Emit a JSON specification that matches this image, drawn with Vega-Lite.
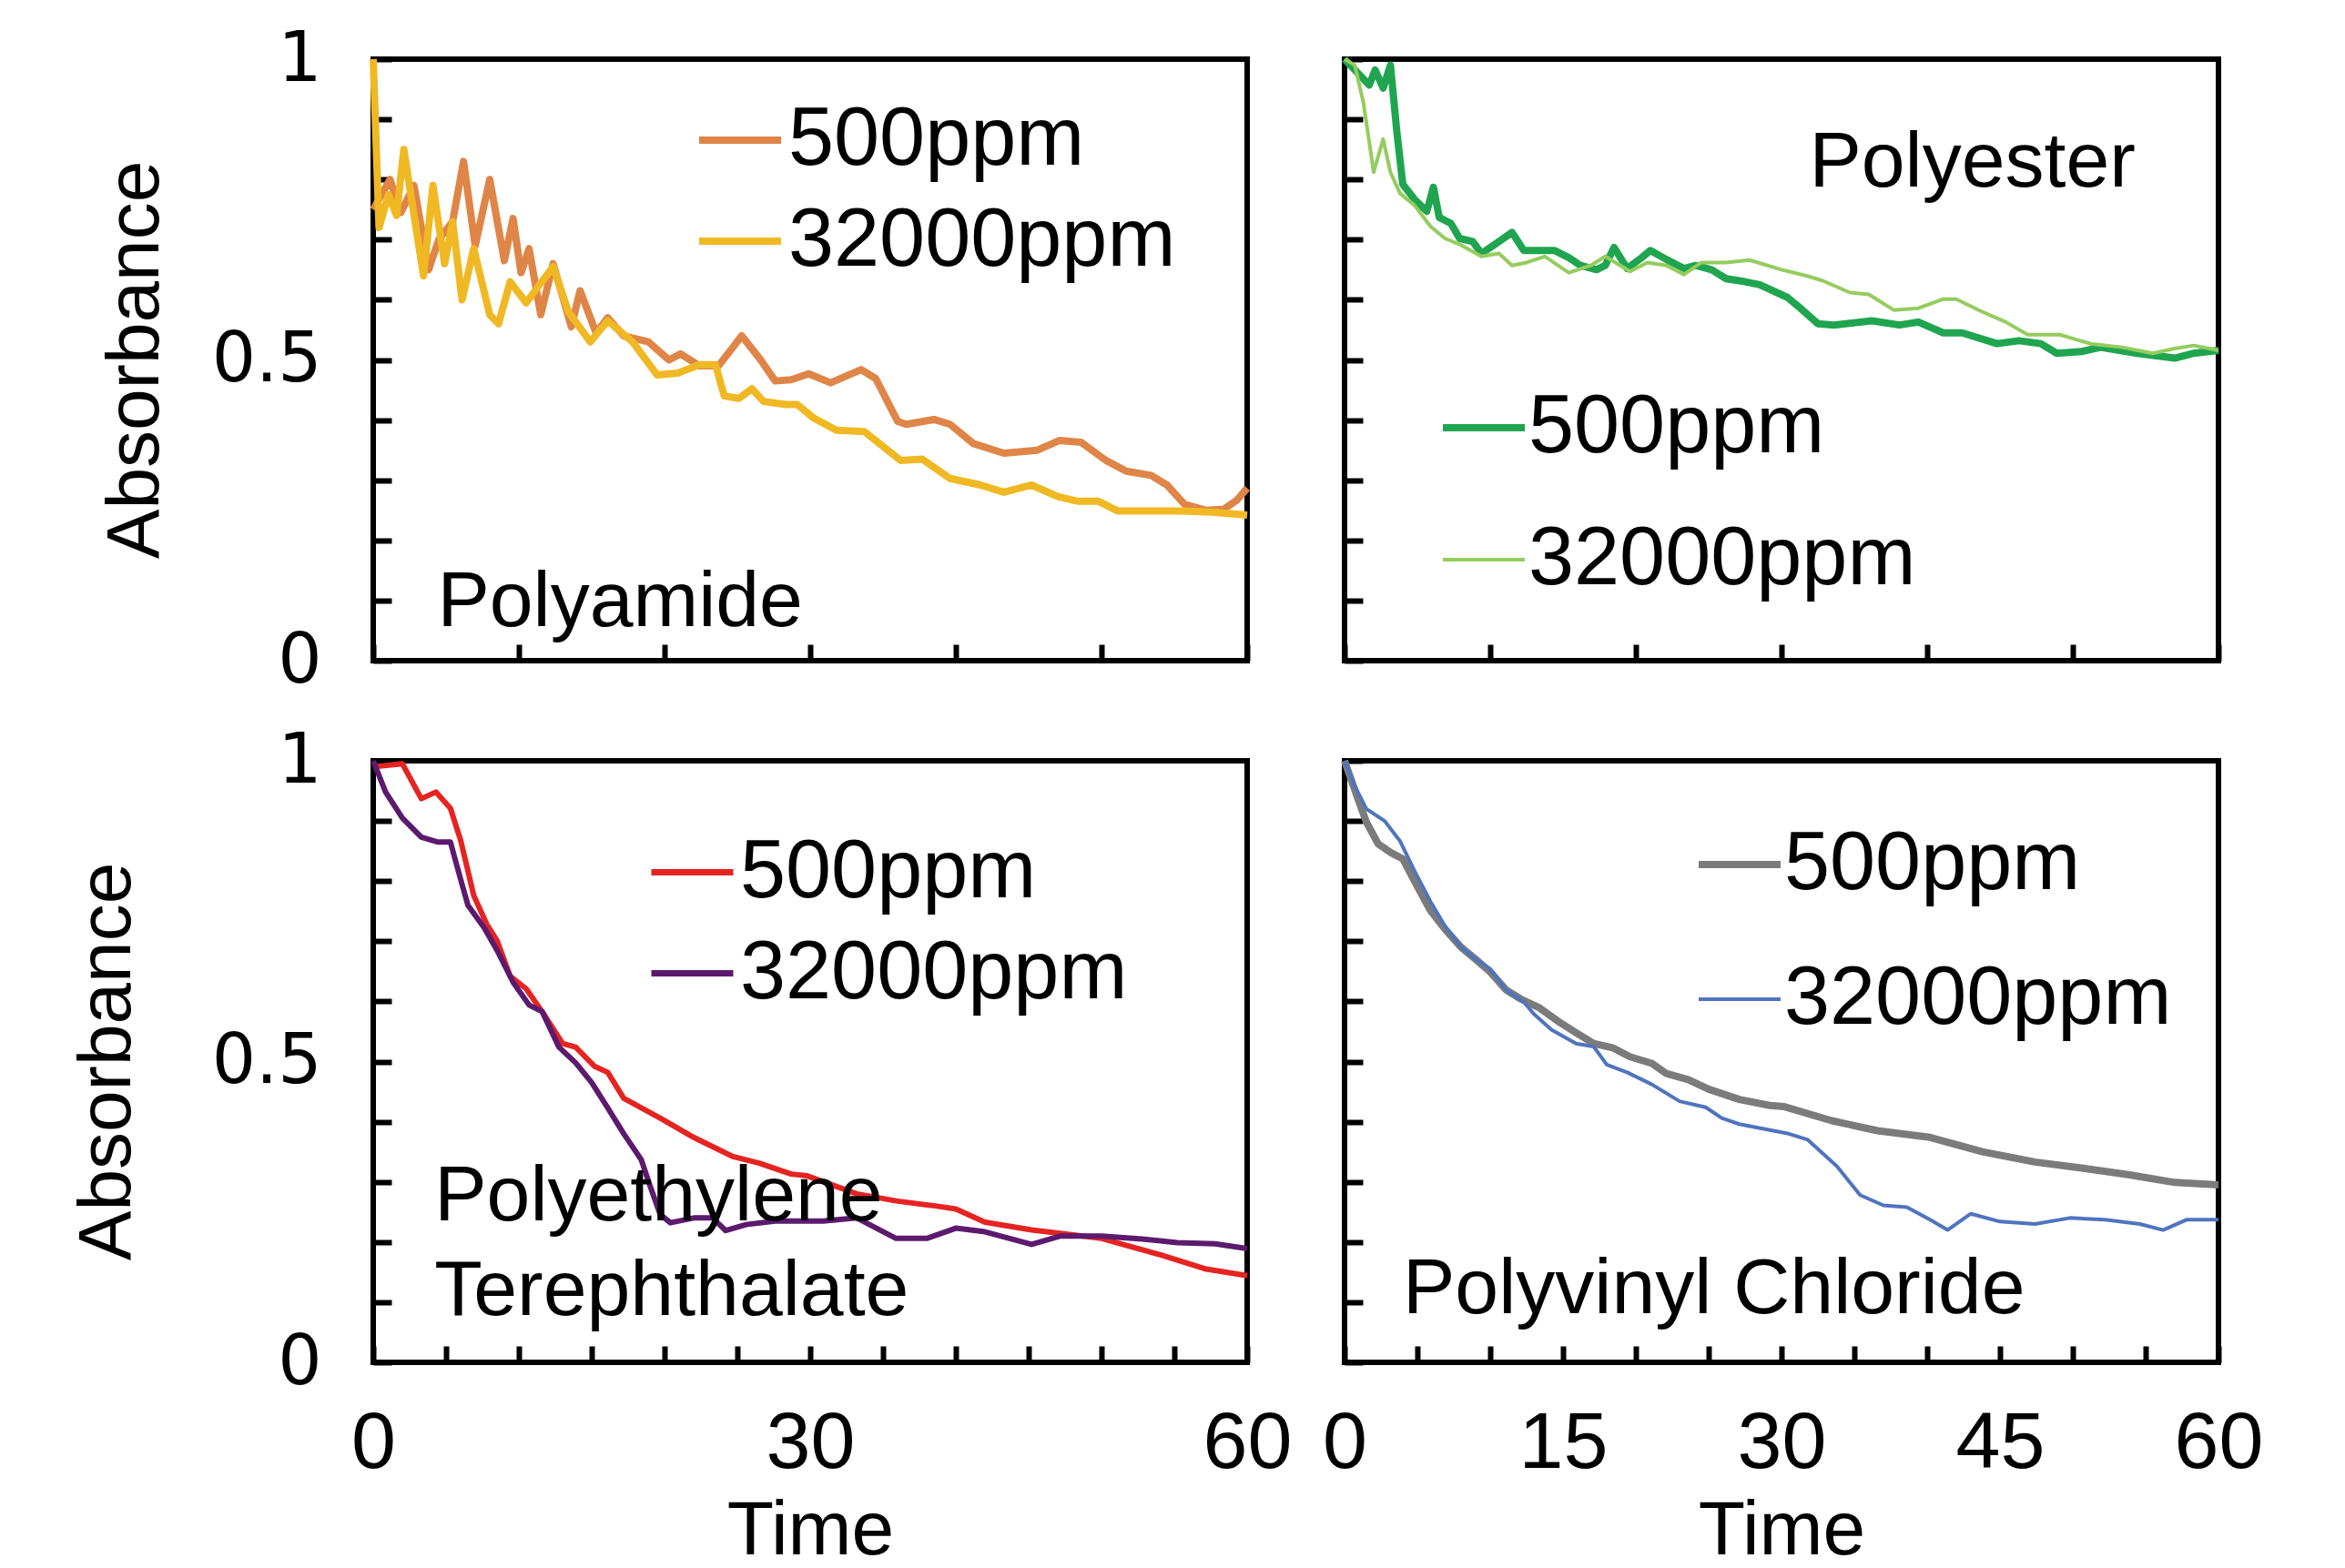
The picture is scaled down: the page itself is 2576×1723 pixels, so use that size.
{
"$schema": "https://vega.github.io/schema/vega-lite/v6.json",
"background": "white",
"padding": {"left": 73, "top": 24, "right": 10, "bottom": 0},
"datasets": {"d": [
{"p":"PA","s":"500ppm","t":0,"a":0.75},{"p":"PA","s":"500ppm","t":1.15,"a":0.8},{"p":"PA","s":"500ppm","t":1.9,"a":0.745},{"p":"PA","s":"500ppm","t":2.8,"a":0.79},{"p":"PA","s":"500ppm","t":3.8,"a":0.65},{"p":"PA","s":"500ppm","t":4.5,"a":0.7},{"p":"PA","s":"500ppm","t":5.45,"a":0.73},{"p":"PA","s":"500ppm","t":6.2,"a":0.83},{"p":"PA","s":"500ppm","t":7.0,"a":0.69},{"p":"PA","s":"500ppm","t":8.0,"a":0.8},{"p":"PA","s":"500ppm","t":9.0,"a":0.665},{"p":"PA","s":"500ppm","t":9.6,"a":0.735},{"p":"PA","s":"500ppm","t":10.15,"a":0.645},{"p":"PA","s":"500ppm","t":10.7,"a":0.685},{"p":"PA","s":"500ppm","t":11.5,"a":0.575},{"p":"PA","s":"500ppm","t":12.35,"a":0.66},{"p":"PA","s":"500ppm","t":13.6,"a":0.555},{"p":"PA","s":"500ppm","t":14.2,"a":0.615},{"p":"PA","s":"500ppm","t":15.3,"a":0.545},{"p":"PA","s":"500ppm","t":16.1,"a":0.57},{"p":"PA","s":"500ppm","t":17.2,"a":0.54},{"p":"PA","s":"500ppm","t":18.9,"a":0.53},{"p":"PA","s":"500ppm","t":20.3,"a":0.5},{"p":"PA","s":"500ppm","t":21.1,"a":0.51},{"p":"PA","s":"500ppm","t":22.4,"a":0.49},{"p":"PA","s":"500ppm","t":23.7,"a":0.49},{"p":"PA","s":"500ppm","t":25.3,"a":0.54},{"p":"PA","s":"500ppm","t":26.6,"a":0.5},{"p":"PA","s":"500ppm","t":27.6,"a":0.465},{"p":"PA","s":"500ppm","t":28.7,"a":0.467},{"p":"PA","s":"500ppm","t":29.9,"a":0.477},{"p":"PA","s":"500ppm","t":31.4,"a":0.462},{"p":"PA","s":"500ppm","t":33.5,"a":0.484},{"p":"PA","s":"500ppm","t":34.5,"a":0.469},{"p":"PA","s":"500ppm","t":36.0,"a":0.398},{"p":"PA","s":"500ppm","t":36.6,"a":0.393},{"p":"PA","s":"500ppm","t":38.5,"a":0.401},{"p":"PA","s":"500ppm","t":39.6,"a":0.393},{"p":"PA","s":"500ppm","t":41.2,"a":0.361},{"p":"PA","s":"500ppm","t":43.3,"a":0.345},{"p":"PA","s":"500ppm","t":45.6,"a":0.35},{"p":"PA","s":"500ppm","t":47.1,"a":0.366},{"p":"PA","s":"500ppm","t":48.6,"a":0.363},{"p":"PA","s":"500ppm","t":50.3,"a":0.333},{"p":"PA","s":"500ppm","t":51.7,"a":0.315},{"p":"PA","s":"500ppm","t":53.4,"a":0.308},{"p":"PA","s":"500ppm","t":54.5,"a":0.292},{"p":"PA","s":"500ppm","t":55.7,"a":0.26},{"p":"PA","s":"500ppm","t":57.2,"a":0.25},{"p":"PA","s":"500ppm","t":58.4,"a":0.252},{"p":"PA","s":"500ppm","t":59.3,"a":0.267},{"p":"PA","s":"500ppm","t":60,"a":0.287},
{"p":"PA","s":"32000ppm","t":0,"a":1.0},{"p":"PA","s":"32000ppm","t":0.4,"a":0.72},{"p":"PA","s":"32000ppm","t":1.05,"a":0.775},{"p":"PA","s":"32000ppm","t":1.6,"a":0.74},{"p":"PA","s":"32000ppm","t":2.1,"a":0.85},{"p":"PA","s":"32000ppm","t":3.45,"a":0.64},{"p":"PA","s":"32000ppm","t":4.1,"a":0.79},{"p":"PA","s":"32000ppm","t":4.9,"a":0.66},{"p":"PA","s":"32000ppm","t":5.45,"a":0.73},{"p":"PA","s":"32000ppm","t":6.1,"a":0.6},{"p":"PA","s":"32000ppm","t":6.9,"a":0.685},{"p":"PA","s":"32000ppm","t":8.0,"a":0.575},{"p":"PA","s":"32000ppm","t":8.6,"a":0.56},{"p":"PA","s":"32000ppm","t":9.4,"a":0.63},{"p":"PA","s":"32000ppm","t":10.5,"a":0.595},{"p":"PA","s":"32000ppm","t":12.35,"a":0.655},{"p":"PA","s":"32000ppm","t":13.4,"a":0.58},{"p":"PA","s":"32000ppm","t":14.9,"a":0.53},{"p":"PA","s":"32000ppm","t":16.1,"a":0.565},{"p":"PA","s":"32000ppm","t":17.8,"a":0.53},{"p":"PA","s":"32000ppm","t":19.5,"a":0.475},{"p":"PA","s":"32000ppm","t":20.9,"a":0.478},{"p":"PA","s":"32000ppm","t":22.4,"a":0.492},{"p":"PA","s":"32000ppm","t":23.5,"a":0.492},{"p":"PA","s":"32000ppm","t":24.1,"a":0.44},{"p":"PA","s":"32000ppm","t":25.1,"a":0.436},{"p":"PA","s":"32000ppm","t":26.0,"a":0.452},{"p":"PA","s":"32000ppm","t":26.8,"a":0.431},{"p":"PA","s":"32000ppm","t":28.3,"a":0.426},{"p":"PA","s":"32000ppm","t":29.1,"a":0.426},{"p":"PA","s":"32000ppm","t":30.2,"a":0.404},{"p":"PA","s":"32000ppm","t":31.8,"a":0.383},{"p":"PA","s":"32000ppm","t":33.7,"a":0.381},{"p":"PA","s":"32000ppm","t":34.5,"a":0.366},{"p":"PA","s":"32000ppm","t":36.2,"a":0.333},{"p":"PA","s":"32000ppm","t":37.7,"a":0.335},{"p":"PA","s":"32000ppm","t":39.6,"a":0.303},{"p":"PA","s":"32000ppm","t":41.7,"a":0.292},{"p":"PA","s":"32000ppm","t":43.3,"a":0.28},{"p":"PA","s":"32000ppm","t":45.2,"a":0.292},{"p":"PA","s":"32000ppm","t":47.1,"a":0.272},{"p":"PA","s":"32000ppm","t":48.4,"a":0.265},{"p":"PA","s":"32000ppm","t":49.8,"a":0.265},{"p":"PA","s":"32000ppm","t":51.1,"a":0.249},{"p":"PA","s":"32000ppm","t":53.4,"a":0.249},{"p":"PA","s":"32000ppm","t":55.5,"a":0.249},{"p":"PA","s":"32000ppm","t":57.6,"a":0.247},{"p":"PA","s":"32000ppm","t":60,"a":0.242},
{"p":"PE","s":"500ppm","t":0,"a":1.0},{"p":"PE","s":"500ppm","t":1.7,"a":0.957},{"p":"PE","s":"500ppm","t":2.1,"a":0.982},{"p":"PE","s":"500ppm","t":2.65,"a":0.952},{"p":"PE","s":"500ppm","t":3.15,"a":0.99},{"p":"PE","s":"500ppm","t":3.6,"a":0.877},{"p":"PE","s":"500ppm","t":4.0,"a":0.792},{"p":"PE","s":"500ppm","t":4.8,"a":0.767},{"p":"PE","s":"500ppm","t":5.65,"a":0.747},{"p":"PE","s":"500ppm","t":6.1,"a":0.787},{"p":"PE","s":"500ppm","t":6.5,"a":0.737},{"p":"PE","s":"500ppm","t":7.3,"a":0.727},{"p":"PE","s":"500ppm","t":7.9,"a":0.702},{"p":"PE","s":"500ppm","t":8.8,"a":0.697},{"p":"PE","s":"500ppm","t":9.4,"a":0.677},{"p":"PE","s":"500ppm","t":10.2,"a":0.69},{"p":"PE","s":"500ppm","t":11.5,"a":0.712},{"p":"PE","s":"500ppm","t":12.3,"a":0.682},{"p":"PE","s":"500ppm","t":13.3,"a":0.682},{"p":"PE","s":"500ppm","t":14.4,"a":0.682},{"p":"PE","s":"500ppm","t":15.4,"a":0.67},{"p":"PE","s":"500ppm","t":16.2,"a":0.657},{"p":"PE","s":"500ppm","t":17.3,"a":0.65},{"p":"PE","s":"500ppm","t":17.9,"a":0.657},{"p":"PE","s":"500ppm","t":18.5,"a":0.687},{"p":"PE","s":"500ppm","t":19.4,"a":0.652},{"p":"PE","s":"500ppm","t":20.4,"a":0.67},{"p":"PE","s":"500ppm","t":21.0,"a":0.682},{"p":"PE","s":"500ppm","t":22.1,"a":0.667},{"p":"PE","s":"500ppm","t":23.3,"a":0.652},{"p":"PE","s":"500ppm","t":24.1,"a":0.657},{"p":"PE","s":"500ppm","t":25.2,"a":0.65},{"p":"PE","s":"500ppm","t":26.2,"a":0.635},{"p":"PE","s":"500ppm","t":27.5,"a":0.63},{"p":"PE","s":"500ppm","t":28.5,"a":0.625},{"p":"PE","s":"500ppm","t":30.4,"a":0.604},{"p":"PE","s":"500ppm","t":31.3,"a":0.586},{"p":"PE","s":"500ppm","t":32.5,"a":0.56},{"p":"PE","s":"500ppm","t":33.6,"a":0.558},{"p":"PE","s":"500ppm","t":36.2,"a":0.565},{"p":"PE","s":"500ppm","t":38.1,"a":0.558},{"p":"PE","s":"500ppm","t":39.4,"a":0.563},{"p":"PE","s":"500ppm","t":41.1,"a":0.545},{"p":"PE","s":"500ppm","t":42.4,"a":0.545},{"p":"PE","s":"500ppm","t":44.8,"a":0.527},{"p":"PE","s":"500ppm","t":46.3,"a":0.532},{"p":"PE","s":"500ppm","t":47.8,"a":0.527},{"p":"PE","s":"500ppm","t":48.9,"a":0.511},{"p":"PE","s":"500ppm","t":50.6,"a":0.514},{"p":"PE","s":"500ppm","t":51.9,"a":0.521},{"p":"PE","s":"500ppm","t":54.4,"a":0.511},{"p":"PE","s":"500ppm","t":57.0,"a":0.503},{"p":"PE","s":"500ppm","t":58.3,"a":0.511},{"p":"PE","s":"500ppm","t":60,"a":0.516},
{"p":"PE","s":"32000ppm","t":0,"a":1.0},{"p":"PE","s":"32000ppm","t":0.7,"a":0.99},{"p":"PE","s":"32000ppm","t":1.3,"a":0.927},{"p":"PE","s":"32000ppm","t":2.0,"a":0.812},{"p":"PE","s":"32000ppm","t":2.65,"a":0.867},{"p":"PE","s":"32000ppm","t":3.15,"a":0.812},{"p":"PE","s":"32000ppm","t":3.8,"a":0.777},{"p":"PE","s":"32000ppm","t":4.8,"a":0.757},{"p":"PE","s":"32000ppm","t":5.9,"a":0.722},{"p":"PE","s":"32000ppm","t":6.9,"a":0.702},{"p":"PE","s":"32000ppm","t":7.9,"a":0.692},{"p":"PE","s":"32000ppm","t":9.4,"a":0.672},{"p":"PE","s":"32000ppm","t":10.6,"a":0.677},{"p":"PE","s":"32000ppm","t":11.5,"a":0.657},{"p":"PE","s":"32000ppm","t":12.5,"a":0.662},{"p":"PE","s":"32000ppm","t":13.75,"a":0.672},{"p":"PE","s":"32000ppm","t":15.4,"a":0.645},{"p":"PE","s":"32000ppm","t":16.9,"a":0.657},{"p":"PE","s":"32000ppm","t":17.9,"a":0.672},{"p":"PE","s":"32000ppm","t":19.6,"a":0.647},{"p":"PE","s":"32000ppm","t":20.8,"a":0.662},{"p":"PE","s":"32000ppm","t":22.1,"a":0.657},{"p":"PE","s":"32000ppm","t":23.3,"a":0.642},{"p":"PE","s":"32000ppm","t":24.5,"a":0.662},{"p":"PE","s":"32000ppm","t":26.2,"a":0.662},{"p":"PE","s":"32000ppm","t":27.8,"a":0.666},{"p":"PE","s":"32000ppm","t":30.0,"a":0.65},{"p":"PE","s":"32000ppm","t":31.7,"a":0.64},{"p":"PE","s":"32000ppm","t":32.8,"a":0.632},{"p":"PE","s":"32000ppm","t":34.7,"a":0.612},{"p":"PE","s":"32000ppm","t":36.0,"a":0.609},{"p":"PE","s":"32000ppm","t":37.7,"a":0.583},{"p":"PE","s":"32000ppm","t":39.4,"a":0.586},{"p":"PE","s":"32000ppm","t":41.1,"a":0.601},{"p":"PE","s":"32000ppm","t":42.0,"a":0.601},{"p":"PE","s":"32000ppm","t":43.7,"a":0.581},{"p":"PE","s":"32000ppm","t":45.4,"a":0.563},{"p":"PE","s":"32000ppm","t":46.9,"a":0.542},{"p":"PE","s":"32000ppm","t":49.1,"a":0.542},{"p":"PE","s":"32000ppm","t":51.2,"a":0.527},{"p":"PE","s":"32000ppm","t":53.4,"a":0.521},{"p":"PE","s":"32000ppm","t":55.5,"a":0.511},{"p":"PE","s":"32000ppm","t":57.0,"a":0.519},{"p":"PE","s":"32000ppm","t":58.3,"a":0.524},{"p":"PE","s":"32000ppm","t":60,"a":0.516},
{"p":"PET","s":"500ppm","t":0,"a":0.99},{"p":"PET","s":"500ppm","t":2.0,"a":0.995},{"p":"PET","s":"500ppm","t":3.3,"a":0.937},{"p":"PET","s":"500ppm","t":4.3,"a":0.948},{"p":"PET","s":"500ppm","t":5.3,"a":0.921},{"p":"PET","s":"500ppm","t":6.0,"a":0.868},{"p":"PET","s":"500ppm","t":6.9,"a":0.776},{"p":"PET","s":"500ppm","t":7.8,"a":0.728},{"p":"PET","s":"500ppm","t":8.5,"a":0.701},{"p":"PET","s":"500ppm","t":9.4,"a":0.642},{"p":"PET","s":"500ppm","t":10.5,"a":0.621},{"p":"PET","s":"500ppm","t":11.6,"a":0.583},{"p":"PET","s":"500ppm","t":13.0,"a":0.53},{"p":"PET","s":"500ppm","t":13.9,"a":0.524},{"p":"PET","s":"500ppm","t":15.2,"a":0.492},{"p":"PET","s":"500ppm","t":16.1,"a":0.482},{"p":"PET","s":"500ppm","t":17.2,"a":0.439},{"p":"PET","s":"500ppm","t":19.7,"a":0.406},{"p":"PET","s":"500ppm","t":22.0,"a":0.374},{"p":"PET","s":"500ppm","t":24.7,"a":0.342},{"p":"PET","s":"500ppm","t":26.5,"a":0.331},{"p":"PET","s":"500ppm","t":28.7,"a":0.313},{"p":"PET","s":"500ppm","t":29.8,"a":0.31},{"p":"PET","s":"500ppm","t":33.2,"a":0.28},{"p":"PET","s":"500ppm","t":36.0,"a":0.268},{"p":"PET","s":"500ppm","t":38.6,"a":0.26},{"p":"PET","s":"500ppm","t":40.0,"a":0.255},{"p":"PET","s":"500ppm","t":42.0,"a":0.233},{"p":"PET","s":"500ppm","t":45.2,"a":0.22},{"p":"PET","s":"500ppm","t":50.0,"a":0.206},{"p":"PET","s":"500ppm","t":54.0,"a":0.179},{"p":"PET","s":"500ppm","t":57.2,"a":0.155},{"p":"PET","s":"500ppm","t":60,"a":0.144},
{"p":"PET","s":"32000ppm","t":0,"a":1.0},{"p":"PET","s":"32000ppm","t":0.85,"a":0.948},{"p":"PET","s":"32000ppm","t":2.0,"a":0.905},{"p":"PET","s":"32000ppm","t":3.3,"a":0.873},{"p":"PET","s":"32000ppm","t":4.4,"a":0.865},{"p":"PET","s":"32000ppm","t":5.3,"a":0.865},{"p":"PET","s":"32000ppm","t":6.0,"a":0.803},{"p":"PET","s":"32000ppm","t":6.5,"a":0.76},{"p":"PET","s":"32000ppm","t":7.6,"a":0.723},{"p":"PET","s":"32000ppm","t":8.5,"a":0.685},{"p":"PET","s":"32000ppm","t":9.6,"a":0.632},{"p":"PET","s":"32000ppm","t":10.7,"a":0.594},{"p":"PET","s":"32000ppm","t":11.6,"a":0.583},{"p":"PET","s":"32000ppm","t":12.75,"a":0.524},{"p":"PET","s":"32000ppm","t":13.9,"a":0.498},{"p":"PET","s":"32000ppm","t":15.0,"a":0.465},{"p":"PET","s":"32000ppm","t":16.1,"a":0.423},{"p":"PET","s":"32000ppm","t":17.2,"a":0.38},{"p":"PET","s":"32000ppm","t":18.4,"a":0.337},{"p":"PET","s":"32000ppm","t":19.0,"a":0.294},{"p":"PET","s":"32000ppm","t":19.7,"a":0.246},{"p":"PET","s":"32000ppm","t":20.4,"a":0.232},{"p":"PET","s":"32000ppm","t":22.0,"a":0.24},{"p":"PET","s":"32000ppm","t":23.3,"a":0.24},{"p":"PET","s":"32000ppm","t":24.2,"a":0.219},{"p":"PET","s":"32000ppm","t":25.6,"a":0.229},{"p":"PET","s":"32000ppm","t":27.6,"a":0.235},{"p":"PET","s":"32000ppm","t":30.9,"a":0.235},{"p":"PET","s":"32000ppm","t":33.2,"a":0.24},{"p":"PET","s":"32000ppm","t":35.9,"a":0.206},{"p":"PET","s":"32000ppm","t":38.0,"a":0.206},{"p":"PET","s":"32000ppm","t":40.0,"a":0.223},{"p":"PET","s":"32000ppm","t":42.0,"a":0.217},{"p":"PET","s":"32000ppm","t":45.2,"a":0.196},{"p":"PET","s":"32000ppm","t":47.2,"a":0.21},{"p":"PET","s":"32000ppm","t":50.0,"a":0.21},{"p":"PET","s":"32000ppm","t":52.8,"a":0.205},{"p":"PET","s":"32000ppm","t":55.2,"a":0.199},{"p":"PET","s":"32000ppm","t":57.8,"a":0.197},{"p":"PET","s":"32000ppm","t":60,"a":0.189},
{"p":"PVC","s":"500ppm","t":0,"a":1.0},{"p":"PVC","s":"500ppm","t":0.9,"a":0.938},{"p":"PVC","s":"500ppm","t":1.5,"a":0.898},{"p":"PVC","s":"500ppm","t":2.3,"a":0.862},{"p":"PVC","s":"500ppm","t":3.2,"a":0.847},{"p":"PVC","s":"500ppm","t":4.0,"a":0.837},{"p":"PVC","s":"500ppm","t":5.0,"a":0.791},{"p":"PVC","s":"500ppm","t":5.9,"a":0.751},{"p":"PVC","s":"500ppm","t":6.9,"a":0.72},{"p":"PVC","s":"500ppm","t":8.0,"a":0.69},{"p":"PVC","s":"500ppm","t":9.0,"a":0.67},{"p":"PVC","s":"500ppm","t":10.0,"a":0.649},{"p":"PVC","s":"500ppm","t":11.1,"a":0.619},{"p":"PVC","s":"500ppm","t":12.1,"a":0.604},{"p":"PVC","s":"500ppm","t":13.4,"a":0.589},{"p":"PVC","s":"500ppm","t":14.6,"a":0.568},{"p":"PVC","s":"500ppm","t":15.9,"a":0.548},{"p":"PVC","s":"500ppm","t":17.1,"a":0.53},{"p":"PVC","s":"500ppm","t":18.4,"a":0.523},{"p":"PVC","s":"500ppm","t":19.6,"a":0.508},{"p":"PVC","s":"500ppm","t":21.1,"a":0.497},{"p":"PVC","s":"500ppm","t":22.1,"a":0.48},{"p":"PVC","s":"500ppm","t":23.6,"a":0.47},{"p":"PVC","s":"500ppm","t":25.0,"a":0.454},{"p":"PVC","s":"500ppm","t":27.1,"a":0.437},{"p":"PVC","s":"500ppm","t":29.2,"a":0.427},{"p":"PVC","s":"500ppm","t":30.2,"a":0.425},{"p":"PVC","s":"500ppm","t":33.4,"a":0.402},{"p":"PVC","s":"500ppm","t":36.6,"a":0.385},{"p":"PVC","s":"500ppm","t":40.2,"a":0.374},{"p":"PVC","s":"500ppm","t":43.8,"a":0.35},{"p":"PVC","s":"500ppm","t":47.4,"a":0.333},{"p":"PVC","s":"500ppm","t":50.6,"a":0.323},{"p":"PVC","s":"500ppm","t":53.8,"a":0.312},{"p":"PVC","s":"500ppm","t":57.0,"a":0.299},{"p":"PVC","s":"500ppm","t":60,"a":0.295},
{"p":"PVC","s":"32000ppm","t":0,"a":1.0},{"p":"PVC","s":"32000ppm","t":0.7,"a":0.958},{"p":"PVC","s":"32000ppm","t":1.5,"a":0.92},{"p":"PVC","s":"32000ppm","t":2.75,"a":0.9},{"p":"PVC","s":"32000ppm","t":3.8,"a":0.867},{"p":"PVC","s":"32000ppm","t":4.8,"a":0.817},{"p":"PVC","s":"32000ppm","t":5.9,"a":0.766},{"p":"PVC","s":"32000ppm","t":6.9,"a":0.725},{"p":"PVC","s":"32000ppm","t":8.0,"a":0.69},{"p":"PVC","s":"32000ppm","t":9.0,"a":0.67},{"p":"PVC","s":"32000ppm","t":10.0,"a":0.654},{"p":"PVC","s":"32000ppm","t":11.1,"a":0.619},{"p":"PVC","s":"32000ppm","t":12.3,"a":0.599},{"p":"PVC","s":"32000ppm","t":13.0,"a":0.579},{"p":"PVC","s":"32000ppm","t":14.2,"a":0.553},{"p":"PVC","s":"32000ppm","t":15.9,"a":0.53},{"p":"PVC","s":"32000ppm","t":17.1,"a":0.525},{"p":"PVC","s":"32000ppm","t":18.0,"a":0.495},{"p":"PVC","s":"32000ppm","t":19.4,"a":0.482},{"p":"PVC","s":"32000ppm","t":21.1,"a":0.462},{"p":"PVC","s":"32000ppm","t":23.0,"a":0.434},{"p":"PVC","s":"32000ppm","t":24.8,"a":0.424},{"p":"PVC","s":"32000ppm","t":25.9,"a":0.406},{"p":"PVC","s":"32000ppm","t":27.1,"a":0.396},{"p":"PVC","s":"32000ppm","t":28.8,"a":0.388},{"p":"PVC","s":"32000ppm","t":30.5,"a":0.38},{"p":"PVC","s":"32000ppm","t":31.8,"a":0.37},{"p":"PVC","s":"32000ppm","t":33.8,"a":0.326},{"p":"PVC","s":"32000ppm","t":35.4,"a":0.278},{"p":"PVC","s":"32000ppm","t":37.0,"a":0.261},{"p":"PVC","s":"32000ppm","t":38.6,"a":0.258},{"p":"PVC","s":"32000ppm","t":40.2,"a":0.237},{"p":"PVC","s":"32000ppm","t":41.4,"a":0.22},{"p":"PVC","s":"32000ppm","t":43.0,"a":0.247},{"p":"PVC","s":"32000ppm","t":45.0,"a":0.234},{"p":"PVC","s":"32000ppm","t":47.4,"a":0.23},{"p":"PVC","s":"32000ppm","t":49.8,"a":0.24},{"p":"PVC","s":"32000ppm","t":52.2,"a":0.237},{"p":"PVC","s":"32000ppm","t":54.6,"a":0.23},{"p":"PVC","s":"32000ppm","t":56.2,"a":0.22},{"p":"PVC","s":"32000ppm","t":57.8,"a":0.237},{"p":"PVC","s":"32000ppm","t":60,"a":0.237}
],
"labels": [
{"p":"PA","label":"Polyamide"},
{"p":"PE","label":"Polyester"},
{"p":"PET","label":["Polyethylene","Terephthalate"]},
{"p":"PVC","label":"Polyvinyl Chloride"}
]},
"columns": 2,
"spacing": {"column": 107, "row": 110},
"bounds": "flush",
"resolve": {"scale": {"color": "independent"}, "legend": {"color": "independent"}},
"concat": [
{
 "width": 960, "height": 661,
 "layer": [
  {"data": {"name": "d"}, "transform": [{"filter": "datum.p == 'PA' && datum.s == '500ppm'"}],
   "mark": {"type": "line", "strokeWidth": 8, "strokeJoin": "round"},
   "encoding": {
    "x": {"field": "t", "type": "quantitative", "scale": {"domain": [0, 60], "nice": false, "zero": false},
          "axis": {"values": [0,10,20,30,40,50,60], "tickSize": -18, "labels": false, "title": null}},
    "y": {"field": "a", "type": "quantitative", "scale": {"domain": [0, 1], "nice": false},
          "axis": {"values": [0,0.1,0.2,0.3,0.4,0.5,0.6,0.7,0.8,0.9,1], "tickSize": -20,
                   "labelExpr": "datum.value == 0 ? '0' : datum.value == 0.5 ? '0.5' : datum.value == 1 ? '1' : ''",
                   "labelFont": "DejaVu Sans", "labelFontSize": 76, "labelPadding": 77,
                   "title": "Absorbance", "titleFont": "Liberation Sans", "titleFontSize": 82,
                   "titleX": -237, "titleY": 330, "titleBaseline": "alphabetic", "titleAngle": 270}},
    "color": {"field": "s", "type": "nominal", "scale": {"domain": ["500ppm", "32000ppm"], "range": ["#DF8547", "#F0B923"]},
     "legend": {"title": null, "orient": "none", "legendX": 354, "legendY": 40, "rowPadding": 17}}}},
  {"data": {"name": "d"}, "transform": [{"filter": "datum.p == 'PA' && datum.s == '32000ppm'"}],
   "mark": {"type": "line", "strokeWidth": 8, "strokeJoin": "round"},
   "encoding": {
    "x": {"field": "t", "type": "quantitative"},
    "y": {"field": "a", "type": "quantitative"},
    "color": {"field": "s", "type": "nominal", "scale": {"domain": ["500ppm", "32000ppm"], "range": ["#DF8547", "#F0B923"]},
     "legend": {"title": null, "orient": "none", "legendX": 354, "legendY": 40, "rowPadding": 17}}}},
  {"data": {"name": "labels"}, "transform": [{"filter": "datum.p == 'PA'"}],
   "mark": {"type": "text", "align": "left", "baseline": "alphabetic", "fontSize": 86, "font": "Liberation Sans", "fill": "black"},
   "encoding": {"x": {"datum": 4.4}, "y": {"datum": 0.058}, "text": {"field": "label"}}}
 ]
},
{
 "width": 960, "height": 661,
 "layer": [
  {"data": {"name": "d"}, "transform": [{"filter": "datum.p == 'PE' && datum.s == '500ppm'"}],
   "mark": {"type": "line", "strokeWidth": 8, "strokeJoin": "round"},
   "encoding": {
    "x": {"field": "t", "type": "quantitative", "scale": {"domain": [0, 60], "nice": false, "zero": false},
          "axis": {"values": [0,10,20,30,40,50,60], "tickSize": -18, "labels": false, "title": null}},
    "y": {"field": "a", "type": "quantitative", "scale": {"domain": [0, 1], "nice": false},
          "axis": {"values": [0,0.1,0.2,0.3,0.4,0.5,0.6,0.7,0.8,0.9,1], "tickSize": -20, "labels": false, "title": null}},
    "color": {"field": "s", "type": "nominal", "scale": {"domain": ["500ppm", "32000ppm"], "range": ["#1FA54F", "#95CC5E"]},
     "legend": {"title": null, "orient": "none", "legendX": 108, "legendY": 360, "rowPadding": 55,
       "encode": {"symbols": {"update": {"strokeWidth": {"signal": "datum.value == '500ppm' ? 8 : 4"}}}}}}}},
  {"data": {"name": "d"}, "transform": [{"filter": "datum.p == 'PE' && datum.s == '32000ppm'"}],
   "mark": {"type": "line", "strokeWidth": 4, "strokeJoin": "round"},
   "encoding": {
    "x": {"field": "t", "type": "quantitative"},
    "y": {"field": "a", "type": "quantitative"},
    "color": {"field": "s", "type": "nominal", "scale": {"domain": ["500ppm", "32000ppm"], "range": ["#1FA54F", "#95CC5E"]},
     "legend": {"title": null, "orient": "none", "legendX": 108, "legendY": 360, "rowPadding": 55,
       "encode": {"symbols": {"update": {"strokeWidth": {"signal": "datum.value == '500ppm' ? 8 : 4"}}}}}}}},
  {"data": {"name": "labels"}, "transform": [{"filter": "datum.p == 'PE'"}],
   "mark": {"type": "text", "align": "left", "baseline": "alphabetic", "fontSize": 86, "font": "Liberation Sans", "fill": "black"},
   "encoding": {"x": {"datum": 31.9}, "y": {"datum": 0.788}, "text": {"field": "label"}}}
 ]
},
{
 "width": 960, "height": 661,
 "layer": [
  {"data": {"name": "d"}, "transform": [{"filter": "datum.p == 'PET' && datum.s == '500ppm'"}],
   "mark": {"type": "line", "strokeWidth": 6, "strokeJoin": "round"},
   "encoding": {
    "x": {"field": "t", "type": "quantitative", "scale": {"domain": [0, 60], "nice": false, "zero": false},
          "axis": {"values": [0,5,10,15,20,25,30,35,40,45,50,55,60], "tickSize": -18,
                   "labelExpr": "datum.value % 30 == 0 ? datum.label : ''",
                   "labelFont": "Liberation Sans", "labelFontSize": 88, "labelPadding": 63,
                   "title": "Time", "titleFont": "Liberation Sans", "titleFontSize": 84,
                   "titleY": 210, "titleBaseline": "alphabetic"}},
    "y": {"field": "a", "type": "quantitative", "scale": {"domain": [0, 1], "nice": false},
          "axis": {"values": [0,0.1,0.2,0.3,0.4,0.5,0.6,0.7,0.8,0.9,1], "tickSize": -20,
                   "labelExpr": "datum.value == 0 ? '0' : datum.value == 0.5 ? '0.5' : datum.value == 1 ? '1' : ''",
                   "labelFont": "DejaVu Sans", "labelFontSize": 76, "labelPadding": 77,
                   "title": "Absorbance", "titleFont": "Liberation Sans", "titleFontSize": 82,
                   "titleX": -268, "titleY": 330, "titleBaseline": "alphabetic", "titleAngle": 270}},
    "color": {"field": "s", "type": "nominal", "scale": {"domain": ["500ppm", "32000ppm"], "range": ["#E52421", "#5C1A6E"]},
     "legend": {"title": null, "orient": "none", "legendX": 302, "legendY": 74, "rowPadding": 17,
       "encode": {"symbols": {"update": {"strokeWidth": {"value": 7}}}}}}}},
  {"data": {"name": "d"}, "transform": [{"filter": "datum.p == 'PET' && datum.s == '32000ppm'"}],
   "mark": {"type": "line", "strokeWidth": 6, "strokeJoin": "round"},
   "encoding": {
    "x": {"field": "t", "type": "quantitative"},
    "y": {"field": "a", "type": "quantitative"},
    "color": {"field": "s", "type": "nominal", "scale": {"domain": ["500ppm", "32000ppm"], "range": ["#E52421", "#5C1A6E"]},
     "legend": {"title": null, "orient": "none", "legendX": 302, "legendY": 74, "rowPadding": 17,
       "encode": {"symbols": {"update": {"strokeWidth": {"value": 7}}}}}}}},
  {"data": {"name": "labels"}, "transform": [{"filter": "datum.p == 'PET'"}],
   "mark": {"type": "text", "align": "left", "baseline": "alphabetic", "fontSize": 86, "font": "Liberation Sans", "fill": "black", "lineHeight": 104},
   "encoding": {"x": {"datum": 4.2}, "y": {"datum": 0.236}, "text": {"field": "label"}}}
 ]
},
{
 "width": 960, "height": 661,
 "layer": [
  {"data": {"name": "d"}, "transform": [{"filter": "datum.p == 'PVC' && datum.s == '500ppm'"}],
   "mark": {"type": "line", "strokeWidth": 8, "strokeJoin": "round"},
   "encoding": {
    "x": {"field": "t", "type": "quantitative", "scale": {"domain": [0, 60], "nice": false, "zero": false},
          "axis": {"values": [0,5,10,15,20,25,30,35,40,45,50,55,60], "tickSize": -18,
                   "labelExpr": "datum.value % 15 == 0 ? datum.label : ''",
                   "labelFont": "Liberation Sans", "labelFontSize": 88, "labelPadding": 63,
                   "title": "Time", "titleFont": "Liberation Sans", "titleFontSize": 84,
                   "titleY": 210, "titleBaseline": "alphabetic"}},
    "y": {"field": "a", "type": "quantitative", "scale": {"domain": [0, 1], "nice": false},
          "axis": {"values": [0,0.1,0.2,0.3,0.4,0.5,0.6,0.7,0.8,0.9,1], "tickSize": -20, "labels": false, "title": null}},
    "color": {"field": "s", "type": "nominal", "scale": {"domain": ["500ppm", "32000ppm"], "range": ["#7B7B7B", "#4F74BE"]},
     "legend": {"title": null, "orient": "none", "legendX": 389, "legendY": 69, "rowPadding": 58,
       "encode": {"symbols": {"update": {"strokeWidth": {"signal": "datum.value == '500ppm' ? 8 : 4"}}}}}}}},
  {"data": {"name": "d"}, "transform": [{"filter": "datum.p == 'PVC' && datum.s == '32000ppm'"}],
   "mark": {"type": "line", "strokeWidth": 4, "strokeJoin": "round"},
   "encoding": {
    "x": {"field": "t", "type": "quantitative"},
    "y": {"field": "a", "type": "quantitative"},
    "color": {"field": "s", "type": "nominal", "scale": {"domain": ["500ppm", "32000ppm"], "range": ["#7B7B7B", "#4F74BE"]},
     "legend": {"title": null, "orient": "none", "legendX": 389, "legendY": 69, "rowPadding": 58,
       "encode": {"symbols": {"update": {"strokeWidth": {"signal": "datum.value == '500ppm' ? 8 : 4"}}}}}}}},
  {"data": {"name": "labels"}, "transform": [{"filter": "datum.p == 'PVC'"}],
   "mark": {"type": "text", "align": "left", "baseline": "alphabetic", "fontSize": 86, "font": "Liberation Sans", "fill": "black"},
   "encoding": {"x": {"datum": 4.0}, "y": {"datum": 0.082}, "text": {"field": "label"}}}
 ]
}
],
"config": {
 "view": {"stroke": "black", "strokeWidth": 6},
 "axis": {"domain": false, "grid": false, "tickColor": "black", "tickWidth": 6, "labelColor": "black", "titleColor": "black",
          "titleFontWeight": "normal", "labelOverlap": false, "labelBound": false, "labelFlush": false},
 "legend": {"symbolType": "stroke", "symbolSize": 8100, "symbolStrokeWidth": 8, "labelFontSize": 90, "labelFont": "Liberation Sans",
            "labelColor": "black", "labelLimit": 0, "padding": 0, "labelOffset": 4}
}
}
